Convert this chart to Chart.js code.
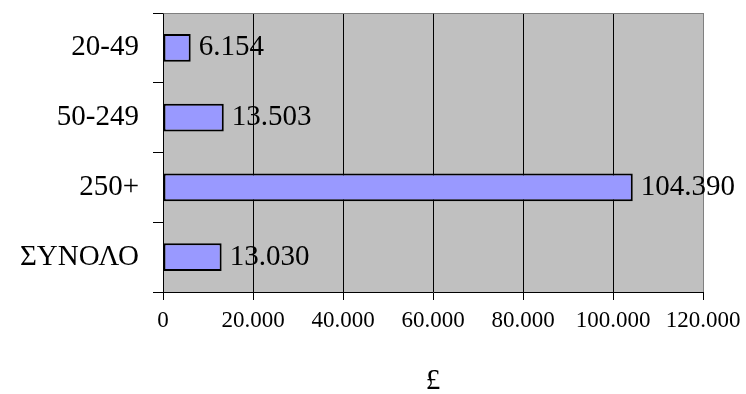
<!DOCTYPE html>
<html>
<head>
<meta charset="utf-8">
<script src="https://cdn.jsdelivr.net/npm/chart.js@4/dist/chart.umd.min.js"></script>
<style>
  html, body { margin: 0; padding: 0; background: #ffffff; }
  canvas { display: block; }
</style>
</head>
<body>
<canvas id="chart" width="746" height="394"></canvas>
<script>
// Size bands and their values in pounds
const categories = ['20-49', '50-249', '250+', 'ΣΥΝΟΛΟ'];
const values = [6154, 13503, 104390, 13030];
const xTicks = [0, 20000, 40000, 60000, 80000, 100000, 120000];
const axisTitle = '£';

const SERIF = '"Liberation Serif", "Times New Roman", serif';

// Thousands separated with a period: 104390 -> "104.390"
function fmt(v) {
  return String(Math.round(v)).replace(/\B(?=(\d{3})+(?!\d))/g, '.');
}

// Grey plot background plus the grey top edge
const plotFrame = {
  id: 'plotFrame',
  beforeDraw(chart) {
    const { ctx, chartArea: a } = chart;
    ctx.save();
    ctx.fillStyle = '#C0C0C0';
    ctx.fillRect(a.left, a.top, a.right - a.left, a.bottom - a.top);
    ctx.restore();
  },
  afterDraw(chart) {
    const { ctx, chartArea: a } = chart;
    ctx.save();
    ctx.strokeStyle = '#808080';
    ctx.lineWidth = 1;
    ctx.beginPath();
    ctx.moveTo(Math.round(a.left) + 0.5, Math.round(a.top) + 0.5);
    ctx.lineTo(Math.round(a.right) + 0.5, Math.round(a.top) + 0.5);
    ctx.stroke();
    ctx.restore();
  }
};

// Value printed just past the end of each bar
const barValues = {
  id: 'barValues',
  afterDatasetsDraw(chart) {
    const { ctx } = chart;
    const meta = chart.getDatasetMeta(0);
    ctx.save();
    ctx.font = '29px ' + SERIF;
    ctx.fillStyle = '#000000';
    ctx.textAlign = 'left';
    ctx.textBaseline = 'middle';
    meta.data.forEach((bar, i) => {
      const v = chart.data.datasets[0].data[i];
      ctx.fillText(fmt(v), bar.x + 8, bar.y);
    });
    ctx.restore();
  }
};

new Chart(document.getElementById('chart'), {
  type: 'bar',
  data: {
    labels: categories,
    datasets: [{
      data: values,
      backgroundColor: '#9999FF',
      borderColor: '#000000',
      borderWidth: 2,
      borderSkipped: false,
      barPercentage: 0.4,
      categoryPercentage: 1.0
    }]
  },
  options: {
    indexAxis: 'y',
    responsive: false,
    animation: false,
    layout: { padding: { top: 13, right: 43, bottom: 0, left: 0 } },
    plugins: {
      legend: { display: false },
      tooltip: { enabled: false }
    },
    scales: {
      x: {
        min: 0,
        max: 120000,
        afterBuildTicks(scale) {
          scale.ticks = xTicks.map(v => ({ value: v }));
        },
        afterFit(scale) {
          scale.height = 102;
          scale.paddingLeft = 0;
          scale.paddingRight = 0;
        },
        ticks: {
          color: '#000000',
          padding: 7,
          maxRotation: 0,
          font: { family: SERIF, size: 23 },
          callback: v => fmt(v)
        },
        grid: {
          color: ctx => (ctx.index === xTicks.length - 1 ? '#808080' : '#000000'),
          tickColor: '#000000',
          tickLength: 8,
          lineWidth: 1
        },
        border: { display: true, color: '#000000', width: 1 },
        title: {
          display: true,
          text: axisTitle,
          color: '#000000',
          font: { family: SERIF, size: 29, lineHeight: 1.2 },
          padding: { top: 0, bottom: -5 }
        }
      },
      y: {
        afterFit(scale) {
          scale.width = 163;
          scale.paddingTop = 0;
          scale.paddingBottom = 0;
        },
        ticks: {
          color: '#000000',
          padding: 14,
          font: { family: SERIF, size: 29 }
        },
        grid: {
          offset: true,
          drawOnChartArea: false,
          color: '#000000',
          tickLength: 10,
          lineWidth: 1
        },
        border: { display: true, color: '#000000', width: 1 }
      }
    }
  },
  plugins: [plotFrame, barValues]
});
</script>
</body>
</html>
